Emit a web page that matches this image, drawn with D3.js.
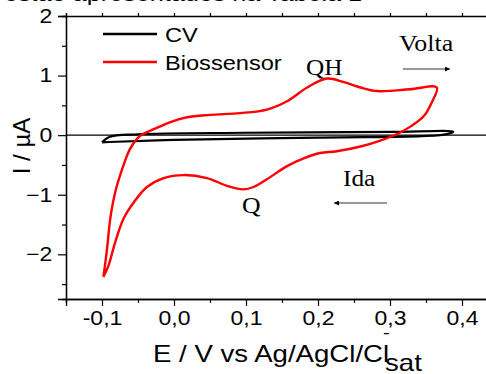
<!DOCTYPE html>
<html>
<head>
<meta charset="utf-8">
<script src="https://cdn.jsdelivr.net/npm/d3@7"></script>
<style>
  body { margin: 0; background: #fff; }
  text { font-family: "Liberation Sans", Arial, sans-serif; fill: #000; }
  .serif { font-family: "Liberation Serif", "Times New Roman", serif; }
</style>
</head>
<body>
<div id="chart"></div>
<script>
// biosensor voltammogram (E in V, I in uA), one closed loop
var bioE = [-0.098, -0.093, -0.0885, -0.0815, -0.072, -0.061, -0.047, -0.028, -0.005, 0.018, 0.050, 0.092, 0.129, 0.157, 0.185, 0.2125, 0.236, 0.259, 0.282, 0.328, 0.365,
            0.358, 0.347, 0.3305, 0.31, 0.2865, 0.259, 0.226, 0.203, 0.18, 0.157, 0.129, 0.1105, 0.0967, 0.0736, 0.0458, 0.0133, -0.0144, -0.0375, -0.056, -0.070, -0.0815, -0.091, -0.098];
var bioI = [-2.38, -1.91, -1.40, -0.95, -0.57, -0.23, -0.01, 0.10, 0.22, 0.30, 0.34, 0.37, 0.43, 0.57, 0.80, 0.95, 0.89, 0.80, 0.74, 0.77, 0.80,
            0.55, 0.32, 0.16, 0.02, -0.09, -0.19, -0.27, -0.30, -0.39, -0.52, -0.74, -0.87, -0.91, -0.85, -0.72, -0.67, -0.72, -0.87, -1.13, -1.40, -1.79, -2.19, -2.38];
// bare electrode CV
var cvE = [-0.100, -0.09, -0.05, 0.1, 0.3, 0.388, 0.375, 0.2, 0.0, -0.09, -0.100];
var cvI = [-0.12, -0.03, 0.015, 0.04, 0.055, 0.06, 0.01, -0.04, -0.08, -0.115, -0.12];

var xTicks = [-0.1, 0.0, 0.1, 0.2, 0.3, 0.4];
var xMinor = [-0.15, -0.05, 0.05, 0.15, 0.25, 0.35, 0.45];
var yTicks = [-2, -1, 0, 1, 2];
var yMinor = [-2.5, -1.5, -0.5, 0.5, 1.5];

var width = 486, height = 374;
var mLeft = 66, mRight = 498, mTop = 16, mBottom = 299;

var svg = d3.select("#chart").append("svg")
    .attr("width", width)
    .attr("height", height);

var x = d3.scaleLinear().domain([-0.15, 0.45]).range([mLeft, mRight]);
var y = d3.scaleLinear().domain([-2.75, 2]).range([mBottom, mTop]);

var fmt = function(d) { return d3.format(".1f")(d).replace(".", ",").replace("−", "-"); };

// stretched text helper (the figure is a bit wider than tall)
function label(t, px, py, size, sx, cls) {
    return svg.append("text")
        .attr("class", cls || null)
        .attr("transform", "translate(" + px + "," + py + ") scale(" + sx + ",1)")
        .style("font-size", size + "px")
        .text(t);
}

// cut off caption line from the page above
label("estão apresentados na Tabela 1", 4, 1, 21, 1.2);

// axes
var xAxis = svg.append("g").attr("transform", "translate(0," + mBottom + ")")
    .call(d3.axisBottom(x).tickValues(xTicks).tickSize(7).tickPadding(5).tickFormat(fmt));
svg.append("g").attr("transform", "translate(0," + mBottom + ")")
    .call(d3.axisBottom(x).tickValues(xMinor).tickSize(4).tickFormat(""));
var yAxis = svg.append("g").attr("transform", "translate(" + mLeft + ",0)")
    .call(d3.axisLeft(y).tickValues(yTicks).tickSize(8).tickPadding(4).tickFormat(d3.format("d")));
svg.append("g").attr("transform", "translate(" + mLeft + ",0)")
    .call(d3.axisLeft(y).tickValues(yMinor).tickSize(4).tickFormat(""));
// top border with small ticks
svg.append("g").attr("transform", "translate(0," + mTop + ")")
    .call(d3.axisTop(x).tickValues(xTicks.concat(xMinor)).tickSize(3).tickFormat(""));

svg.selectAll(".domain").attr("stroke", "#000").attr("stroke-width", 1.3);
svg.selectAll(".tick line").attr("stroke", "#000").attr("stroke-width", 1.2);
svg.selectAll(".tick text")
    .style("font-family", "'Liberation Sans', Arial, sans-serif")
    .style("font-size", "20px")
    .attr("fill", "#000");
xAxis.selectAll(".tick text").attr("transform", "scale(1.15,1)");
yAxis.selectAll(".tick text").attr("transform", "scale(1.15,1)");

// zero line
svg.append("line")
    .attr("x1", mLeft).attr("x2", width)
    .attr("y1", y(0)).attr("y2", y(0))
    .attr("stroke", "#000").attr("stroke-width", 1.2);

var line = d3.line()
    .x(function(d) { return x(d[0]); })
    .y(function(d) { return y(d[1]); })
    .curve(d3.curveCatmullRom.alpha(0.5));

svg.append("path")
    .datum(d3.zip(cvE, cvI))
    .attr("d", line)
    .attr("fill", "none")
    .attr("stroke", "#000")
    .attr("stroke-width", 2.2);

svg.append("path")
    .datum(d3.zip(bioE, bioI))
    .attr("d", line)
    .attr("fill", "none")
    .attr("stroke", "#ff0000")
    .attr("stroke-width", 2.4)
    .attr("stroke-linejoin", "round");

// legend
svg.append("line").attr("x1", 103).attr("x2", 157).attr("y1", 34).attr("y2", 34)
    .attr("stroke", "#000").attr("stroke-width", 2.4);
label("CV", 165, 42, 20, 1.18);
svg.append("line").attr("x1", 103).attr("x2", 157).attr("y1", 62).attr("y2", 62)
    .attr("stroke", "#ff0000").attr("stroke-width", 2.4);
label("Biossensor", 165, 70, 20, 1.18);

// annotations
label("QH", 306, 75, 23, 1.1, "serif");
label("Volta", 399, 51, 24, 1.08, "serif");
label("Ida", 343, 186, 23, 1.1, "serif");
label("Q", 242, 213, 23, 1.12, "serif");

svg.append("defs").append("marker")
    .attr("id", "head")
    .attr("viewBox", "0 0 10 10")
    .attr("refX", 10).attr("refY", 5)
    .attr("markerWidth", 7).attr("markerHeight", 5)
    .attr("markerUnits", "userSpaceOnUse")
    .attr("orient", "auto")
  .append("path").attr("d", "M0,0L10,5L0,10z").attr("fill", "#000");

svg.append("line").attr("x1", 403).attr("x2", 450).attr("y1", 69).attr("y2", 69)
    .attr("stroke", "#333").attr("stroke-width", 1).attr("marker-end", "url(#head)");
svg.append("line").attr("x1", 387).attr("x2", 334).attr("y1", 203).attr("y2", 203)
    .attr("stroke", "#333").attr("stroke-width", 1).attr("marker-end", "url(#head)");

// axis titles
var xt = svg.append("text")
    .attr("transform", "translate(153,362) scale(1.2,1)")
    .style("font-size", "23px");
xt.append("tspan").text("E / V vs Ag/AgCl/Cl");
xt.append("tspan").attr("dy", -24).attr("dx", -5).style("font-size", "17px").text("-");
xt.append("tspan").attr("dy", 33).attr("dx", -4).style("font-size", "23px").text("sat");

svg.append("text")
    .attr("transform", "translate(30,146) rotate(-90)")
    .attr("text-anchor", "middle")
    .style("font-size", "24px")
    .text("I / µA");
</script>
</body>
</html>
